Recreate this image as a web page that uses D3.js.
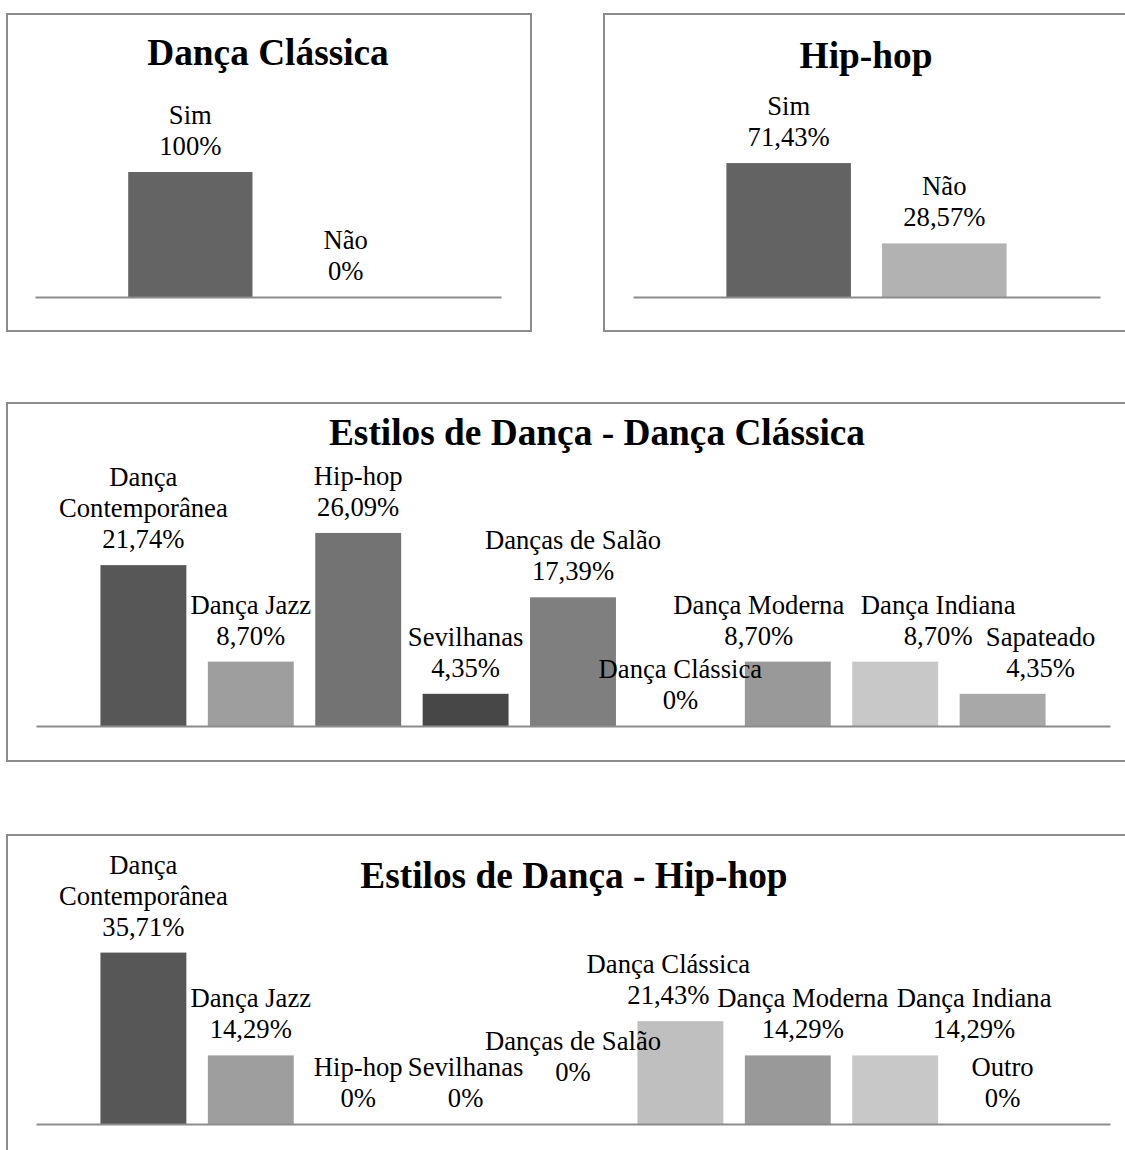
<!DOCTYPE html>
<html>
<head>
<meta charset="utf-8">
<script src="https://cdn.jsdelivr.net/npm/d3@7"></script>
<style>
  body { margin: 0; background: #fff; }
  svg { display: block; font-family: "Liberation Serif", "Times New Roman", serif; }
</style>
</head>
<body>
<div id="chart"></div>
<script>
// data
const simNao = ["Sim", "Não"];
const classicaSimNao = [100, 0];
const hiphopSimNao = [71.43, 28.57];

const estilosClassica = ["Dança Contemporânea", "Dança Jazz", "Hip-hop", "Sevilhanas",
  "Danças de Salão", "Dança Clássica", "Dança Moderna", "Dança Indiana", "Sapateado"];
const estilosClassicaPct = [21.74, 8.70, 26.09, 4.35, 17.39, 0, 8.70, 8.70, 4.35];

const estilosHiphop = ["Dança Contemporânea", "Dança Jazz", "Hip-hop", "Sevilhanas",
  "Danças de Salão", "Dança Clássica", "Dança Moderna", "Dança Indiana", "Outro"];
const estilosHiphopPct = [35.71, 14.29, 0, 0, 0, 21.43, 14.29, 14.29, 0];

// layout of each panel (boxes, axis extents, label nudges)
const charts = [
  {
    title: "Dança Clássica", cats: simNao, values: classicaSimNao, yMax: 120,
    box: [7, 14, 531, 331], axis: [35, 501], axisY: 297, plotH: 150,
    titleX: 268, titleY: 65,
    colors: ["#646464", "#b2b2b2"], nudge: {}
  },
  {
    title: "Hip-hop", cats: simNao, values: hiphopSimNao, yMax: 80,
    box: [604, 14, 1132, 331], axis: [633, 1100], axisY: 297, plotH: 150,
    titleX: 866, titleY: 68,
    colors: ["#636363", "#b2b2b2"], nudge: {}
  },
  {
    title: "Estilos de Dança - Dança Clássica", cats: estilosClassica, values: estilosClassicaPct, yMax: 30,
    box: [7, 403, 1132, 761], axis: [36, 1110], axisY: 726, plotH: 222,
    titleX: 597, titleY: 445,
    colors: ["#575757", "#9e9e9e", "#737373", "#474747", "#7f7f7f", "#bfbfbf", "#999999", "#c8c8c8", "#a8a8a8"],
    nudge: { "Dança Moderna": [-29, 0], "Dança Indiana": [43, 0], "Sapateado": [38, 0] }
  },
  {
    title: "Estilos de Dança - Hip-hop", cats: estilosHiphop, values: estilosHiphopPct, yMax: 40,
    box: [7, 835, 1132, 1170], axis: [36, 1110], axisY: 1124, plotH: 192,
    titleX: 574, titleY: 888,
    colors: ["#575757", "#9e9e9e", "#737373", "#474747", "#7f7f7f", "#bfbfbf", "#999999", "#c8c8c8", "#a8a8a8"],
    nudge: { "Danças de Salão": [0, -26], "Dança Clássica": [-12, 0], "Dança Moderna": [15, 0], "Dança Indiana": [79, 0] }
  }
];

const labelSize = 26.67;
const lineH = 31;

const svg = d3.select("#chart")
  .append("svg")
  .attr("width", 1125)
  .attr("height", 1150);

function fmtPct(v) {
  if (v === 0 || v === 100) return v + "%";
  return v.toFixed(2).replace(".", ",") + "%";
}

// wrap long category names onto two lines, like Excel does
function labelLines(name) {
  const probe = svg.append("text").style("font-size", labelSize + "px").text(name);
  const w = probe.node().getComputedTextLength();
  probe.remove();
  if (w > 200 && name.indexOf(" ") > 0) {
    const i = name.indexOf(" ");
    return [name.slice(0, i), name.slice(i + 1)];
  }
  return [name];
}

charts.forEach(function(c) {
  const g = svg.append("g");

  g.append("rect")
    .attr("x", c.box[0])
    .attr("y", c.box[1])
    .attr("width", c.box[2] - c.box[0])
    .attr("height", c.box[3] - c.box[1])
    .attr("fill", "none")
    .attr("stroke", "#8c8c8c")
    .attr("stroke-width", 2);

  g.append("text")
    .attr("x", c.titleX)
    .attr("y", c.titleY)
    .attr("text-anchor", "middle")
    .style("font-size", "37.33px")
    .style("font-weight", "bold")
    .text(c.title);

  const x = d3.scaleBand()
    .domain(c.cats)
    .range(c.axis)
    .paddingInner(0.2)
    .paddingOuter(0.6);

  const y = d3.scaleLinear()
    .domain([0, c.yMax])
    .range([c.axisY, c.axisY - c.plotH]);

  const data = c.cats.map((name, i) => ({ name: name, value: c.values[i], color: c.colors[i] }));

  g.selectAll(".bar")
    .data(data)
    .enter()
    .append("rect")
    .attr("class", "bar")
    .attr("x", d => x(d.name))
    .attr("width", x.bandwidth())
    .attr("y", d => y(d.value))
    .attr("height", d => y(0) - y(d.value))
    .style("fill", d => d.color);

  const axis = g.append("g")
    .attr("transform", "translate(0," + c.axisY + ")")
    .call(d3.axisBottom(x).tickSize(0).tickSizeOuter(0).tickFormat(""));
  axis.select(".domain").attr("stroke", "#8c8c8c").attr("stroke-width", 2);

  const labels = g.selectAll(".lbl")
    .data(data)
    .enter()
    .append("text")
    .attr("class", "lbl")
    .attr("text-anchor", "middle")
    .style("font-size", labelSize + "px")
    .each(function(d) {
      const lines = labelLines(d.name).concat([fmtPct(d.value)]);
      const n = (c.nudge[d.name] || [0, 0]);
      const cx = x(d.name) + x.bandwidth() / 2 + n[0];
      const base = y(d.value) - 17 + n[1];
      const t = d3.select(this);
      lines.forEach(function(line, i) {
        t.append("tspan")
          .attr("x", cx)
          .attr("y", base - (lines.length - 1 - i) * lineH)
          .text(line);
      });
    });
});
</script>
</body>
</html>
